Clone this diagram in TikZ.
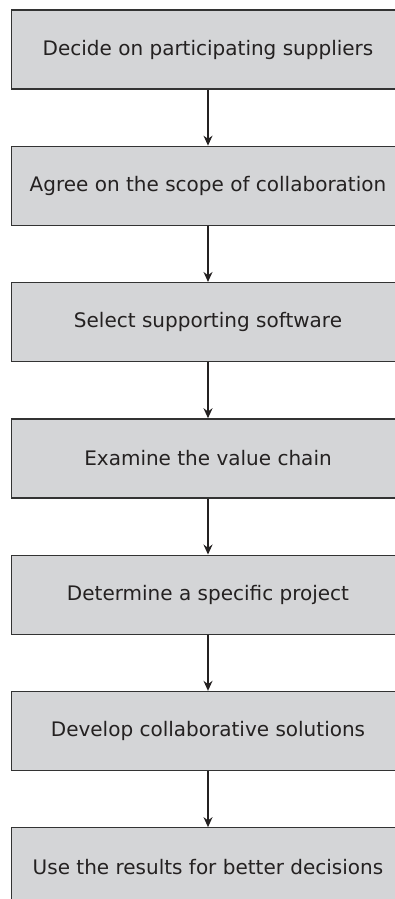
\documentclass[tikz,border=0pt]{standalone}
\usepackage{fontspec}
\setmainfont{DejaVu Sans}
\usepackage{tikz}
\usetikzlibrary{arrows.meta, positioning}
\usepackage{xcolor}
\definecolor{boxgray}{rgb}{0.83, 0.835, 0.845}
\definecolor{edgegray}{rgb}{0.2, 0.2, 0.2}
\definecolor{inkgray}{rgb}{0.14, 0.13, 0.13}

\begin{document}
\begin{tikzpicture}[x=1pt, y=-1pt,
		stepbox/.style={rectangle, draw=edgegray, line width=1.3pt, fill=boxgray, minimum width=393pt, minimum height=79pt, inner sep=0pt, font=\fontsize{20}{24}\selectfont, text=inkgray},
		flow/.style={draw=inkgray, line width=1.6pt, -{Stealth[length=10pt, width=9pt]}}
	]
	\useasboundingbox (0,0) rectangle (395,899);
	\clip (0,0) rectangle (395,899);
	\node[stepbox] (s1) at (208,49.5) {Decide on participating suppliers};
	\node[stepbox, below=56pt of s1] (s2) {Agree on the scope of collaboration};
	\node[stepbox, below=56pt of s2] (s3) {Select supporting software};
	\node[stepbox, below=56pt of s3] (s4) {Examine the value chain};
	\node[stepbox, below=56pt of s4] (s5) {Determine a specific project};
	\node[stepbox, below=56pt of s5] (s6) {Develop collaborative solutions};
	\node[stepbox, below=56pt of s6] (s7) {Use the results for better decisions};
	\foreach \a/\b in {s1/s2, s2/s3, s3/s4, s4/s5, s5/s6, s6/s7}
		\draw[flow] (\a.south) -- (\b.north);
\end{tikzpicture}
\end{document}
